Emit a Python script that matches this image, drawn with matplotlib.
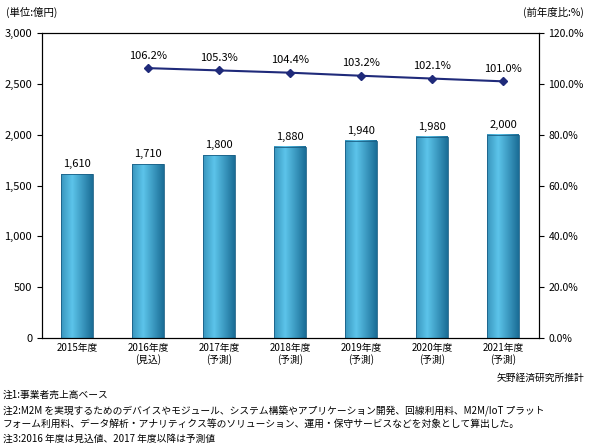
import matplotlib
matplotlib.use("Agg")
import matplotlib.pyplot as plt
import numpy as np

plt.rcParams['font.family'] = ['Noto Sans CJK JP', 'DejaVu Sans']

years = ["2015年度", "2016年度\n(見込)", "2017年度\n(予測)", "2018年度\n(予測)",
         "2019年度\n(予測)", "2020年度\n(予測)", "2021年度\n(予測)"]
sales = [1610, 1710, 1800, 1880, 1940, 1980, 2000]
yoy = [None, 106.2, 105.3, 104.4, 103.2, 102.1, 101.0]

fig = plt.figure(figsize=(5.9, 4.47), dpi=100)
ax = fig.add_axes([0.071, 0.244, 0.842, 0.682])
x = np.arange(len(years))

# cylinder-like gradient bars
grad = np.linspace(0, 1, 64)
shade = 1 - np.abs(grad - 0.35) * 1.2
cmap = matplotlib.colors.LinearSegmentedColormap.from_list("b", ["#08557f", "#5cc4ea"])
w = 0.45
for xi, v in zip(x, sales):
    ax.imshow(shade[None, :], cmap=cmap, aspect="auto", extent=(xi - w / 2, xi + w / 2, 0, v),
              zorder=2, vmin=0, vmax=1)
    ax.add_patch(plt.Rectangle((xi - w / 2, 0), w, v, fill=False, ec="#1a5f85", lw=0.6, zorder=3))
    ax.text(xi, v + 50, f"{v:,}", ha="center", va="bottom", fontsize=8)

ax.set_xlim(-0.5, len(years) - 0.5)
ax.set_ylim(0, 3000)
ax.set_yticks(range(0, 3001, 500))
ax.set_yticklabels([f"{t:,}" for t in range(0, 3001, 500)], fontsize=8)
ax.set_xticks(x)
ax.set_xticklabels(years, fontsize=7)
ax.tick_params(axis="x", length=0)

ax2 = ax.twinx()
ax2.set_ylim(0, 120)
ax2.set_yticks(range(0, 121, 20))
ax2.set_yticklabels([f"{t:.1f}%" for t in range(0, 121, 20)], fontsize=7.5)
xs = [xi for xi, v in zip(x, yoy) if v is not None]
vs = [v for v in yoy if v is not None]
ax2.plot(xs, vs, "-D", color="#1f2a7a", lw=1.5, markersize=4)
for xi, v in zip(xs, vs):
    ax2.text(xi, v + 3, f"{v:.1f}%", ha="center", va="bottom", fontsize=8)

fig.text(0.01, 0.965, "(単位:億円)", fontsize=7.5)
fig.text(0.99, 0.965, "(前年度比:%)", fontsize=7.5, ha="right")
fig.text(0.99, 0.148, "矢野経済研究所推計", fontsize=7, ha="right")
notes = ["注1:事業者売上高ベース",
         "注2:M2M を実現するためのデバイスやモジュール、システム構築やアプリケーション開発、回線利用料、M2M/IoT プラット\n"
         "フォーム利用料、データ解析・アナリティクス等のソリューション、運用・保守サービスなどを対象として算出した。",
         "注3:2016 年度は見込値、2017 年度以降は予測値"]
fig.text(0.005, 0.128, notes[0], fontsize=7, va="top")
fig.text(0.005, 0.092, notes[1], fontsize=7, va="top", linespacing=1.3)
fig.text(0.005, 0.03, notes[2], fontsize=7, va="top")

fig.savefig("out.png", dpi=100)
